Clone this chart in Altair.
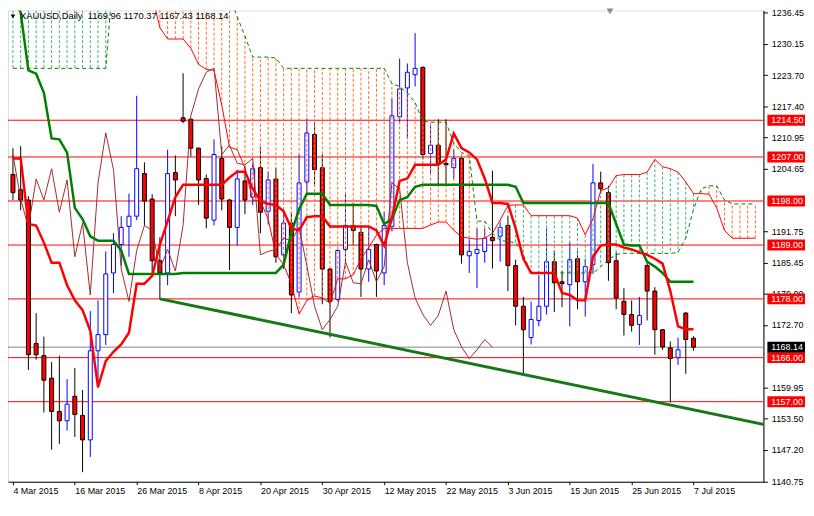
import altair as alt
import pandas as pd

# ---------------- data ----------------
opens = [1203.4, 1200.3, 1198.2, 1168.9, 1166.4, 1161.8, 1155.0, 1153.1, 1158.1, 1154.2,
         1149.2, 1167.4, 1170.7, 1183.3, 1189.1, 1192.8, 1194.9, 1203.6, 1198.4, 1185.8,
         1183.3, 1203.8, 1215.0, 1214.7, 1208.8, 1202.6, 1194.1, 1206.7, 1198.2, 1192.6,
         1202.1, 1198.8, 1204.8, 1195.9, 1202.5, 1187.0, 1193.5, 1179.4, 1201.9, 1211.6,
         1204.8, 1184.1, 1177.9, 1188.1, 1193.0, 1191.6, 1184.1, 1189.1, 1183.3, 1192.8,
         1215.2, 1221.1, 1223.8, 1225.3, 1207.7, 1209.4, 1205.7, 1204.8, 1206.7, 1186.8,
         1187.3, 1187.7, 1190.6, 1190.8, 1193.0, 1184.8, 1176.5, 1170.1, 1173.6, 1176.5,
         1185.6, 1181.5, 1180.9, 1186.2, 1181.5, 1185.0, 1201.7, 1199.7, 1185.8, 1177.5,
         1174.8, 1172.8, 1184.8, 1179.6, 1171.7, 1168.0, 1166.0, 1175.1, 1169.96]
highs = [1208.8, 1209.2, 1199.0, 1175.1, 1170.3, 1165.1, 1166.4, 1161.6, 1163.9, 1159.4,
         1175.5, 1177.7, 1187.7, 1191.4, 1194.9, 1199.5, 1219.5, 1205.9, 1199.4, 1190.6,
         1208.5, 1207.3, 1224.1, 1214.9, 1208.9, 1203.4, 1210.6, 1209.2, 1198.4, 1204.4,
         1205.0, 1205.6, 1209.0, 1204.0, 1204.8, 1195.9, 1195.7, 1207.5, 1214.9, 1213.9,
         1207.5, 1184.3, 1188.1, 1199.7, 1197.6, 1193.0, 1193.0, 1189.3, 1195.7, 1218.9,
         1227.1, 1226.1, 1232.3, 1225.5, 1213.3, 1214.7, 1214.7, 1208.5, 1207.5, 1190.2,
         1192.4, 1192.4, 1204.2, 1193.5, 1194.9, 1186.0, 1178.4, 1177.5, 1182.9, 1192.4,
         1187.9, 1183.7, 1189.5, 1187.7, 1186.2, 1205.6, 1204.0, 1201.1, 1187.5, 1180.2,
         1177.7, 1178.4, 1185.4, 1180.4, 1171.8, 1169.3, 1170.1, 1175.3, 1170.37]
lows = [1198.2, 1196.1, 1163.5, 1165.6, 1154.8, 1147.2, 1148.4, 1151.1, 1149.8, 1142.6,
        1145.7, 1159.8, 1168.6, 1179.2, 1184.8, 1186.6, 1194.1, 1193.0, 1183.3, 1178.0,
        1180.8, 1194.9, 1213.9, 1207.1, 1197.2, 1192.4, 1193.0, 1196.1, 1183.9, 1188.9,
        1195.3, 1197.2, 1191.4, 1193.2, 1185.4, 1184.1, 1175.1, 1178.4, 1199.5, 1201.3,
        1176.9, 1170.1, 1177.5, 1185.2, 1188.9, 1178.4, 1181.5, 1178.4, 1180.8, 1191.8,
        1214.1, 1210.8, 1221.4, 1206.5, 1203.6, 1201.1, 1201.1, 1202.6, 1185.2, 1183.3,
        1180.2, 1185.4, 1184.2, 1185.6, 1179.6, 1172.6, 1162.7, 1168.7, 1172.4, 1174.8,
        1175.3, 1176.3, 1172.4, 1175.9, 1174.4, 1183.1, 1199.5, 1181.7, 1175.9, 1170.5,
        1171.3, 1168.6, 1173.6, 1166.6, 1167.6, 1156.9, 1164.5, 1162.7, 1167.43]
closes = [1199.7, 1198.2, 1166.6, 1166.6, 1161.4, 1155.0, 1153.1, 1156.5, 1154.4, 1149.2,
          1167.4, 1170.7, 1183.1, 1189.1, 1192.6, 1194.9, 1204.6, 1198.0, 1185.8, 1183.3,
          1203.6, 1202.3, 1214.3, 1208.8, 1202.3, 1194.5, 1207.5, 1198.4, 1192.6, 1202.5,
          1198.2, 1204.6, 1195.7, 1202.3, 1186.6, 1193.5, 1178.8, 1201.7, 1211.9, 1204.4,
          1184.1, 1177.5, 1187.9, 1193.0, 1192.0, 1184.1, 1188.1, 1183.7, 1193.0, 1215.4,
          1220.9, 1224.3, 1225.1, 1207.5, 1209.4, 1205.7, 1205.4, 1206.7, 1187.0, 1187.7,
          1188.1, 1190.4, 1189.9, 1192.6, 1184.8, 1176.5, 1171.7, 1173.8, 1176.5, 1185.6,
          1181.3, 1181.1, 1186.0, 1181.5, 1184.6, 1201.7, 1200.5, 1185.4, 1178.2, 1174.8,
          1172.6, 1174.6, 1179.6, 1171.7, 1168.2, 1165.8, 1167.6, 1169.7, 1168.14]

tenkan = [1206.7, 1206.7, 1193.3, 1193.0, 1189.5, 1185.4, 1185.4, 1180.8, 1177.7, 1175.7,
          1171.5, 1160.0, 1165.3, 1167.2, 1168.7, 1171.1, 1181.1, 1181.1, 1182.7, 1189.1,
          1193.9, 1198.8, 1201.3, 1201.3, 1201.3, 1201.3, 1201.3, 1201.3, 1202.8, 1204.0,
          1204.0, 1200.5, 1198.0, 1197.4, 1197.2, 1195.9, 1192.4, 1192.0, 1194.7, 1194.9,
          1194.9, 1192.8, 1192.8, 1192.8, 1192.8, 1192.8, 1192.8, 1192.0, 1188.9, 1194.5,
          1202.1, 1202.6, 1205.4, 1205.4, 1205.4, 1205.4, 1206.5, 1211.8, 1208.8, 1207.9,
          1206.5, 1202.6, 1197.6, 1197.6, 1197.4, 1192.4, 1186.2, 1183.3, 1183.3, 1183.3,
          1183.3, 1179.2, 1178.8, 1177.7, 1177.7, 1186.6, 1188.9, 1189.1, 1189.1, 1188.5,
          1188.1, 1187.5, 1187.0, 1186.2, 1185.2, 1179.6, 1172.4, 1171.8, 1171.8]
kijun = [1240.0, 1236.5, 1224.7, 1224.0, 1220.1, 1210.8, 1210.6, 1207.9, 1196.6, 1194.3,
         1190.8, 1189.9, 1189.9, 1189.9, 1187.9, 1183.1, 1183.1, 1183.1, 1183.1, 1183.1,
         1183.1, 1183.1, 1183.3, 1183.3, 1183.3, 1183.3, 1183.3, 1183.3, 1183.3, 1183.3,
         1183.3, 1183.3, 1183.3, 1183.3, 1183.3, 1185.0, 1191.5, 1196.3, 1199.5, 1199.5,
         1199.5, 1197.2, 1197.2, 1197.2, 1197.2, 1197.2, 1197.2, 1197.0, 1193.3, 1194.3,
         1198.2, 1198.8, 1200.9, 1201.3, 1201.3, 1201.3, 1201.3, 1201.3, 1201.3, 1201.3,
         1201.3, 1201.3, 1201.3, 1201.3, 1201.3, 1200.9, 1197.6, 1197.6, 1197.6, 1197.6,
         1197.6, 1197.6, 1197.6, 1197.6, 1197.6, 1197.6, 1197.6, 1197.6, 1193.3, 1189.1,
         1188.9, 1188.9, 1185.6, 1184.6, 1183.3, 1181.5, 1181.5, 1181.5, 1181.5]
span_a = [1245.0, 1245.0, 1245.0, 1245.0, 1245.0, 1245.0, 1245.0, 1245.0, 1245.0, 1245.0,
          1245.0, 1245.0, 1245.0, 1245.0, 1245.0, 1245.0, 1245.0, 1245.0, 1240.0, 1233.4,
          1231.1, 1231.1, 1231.1, 1229.2, 1225.9, 1224.9, 1224.7, 1217.6, 1209.0, 1208.5,
          1204.8, 1198.2, 1198.0, 1194.3, 1187.1, 1185.0, 1181.1, 1174.9, 1177.7, 1178.6,
          1178.2, 1177.1, 1182.1, 1182.1, 1182.9, 1186.2, 1188.5, 1191.0, 1192.4, 1192.4,
          1192.4, 1192.4, 1192.4, 1192.4, 1193.1, 1193.7, 1193.7, 1192.0, 1190.7, 1190.4,
          1190.2, 1190.4, 1191.4, 1194.1, 1197.1, 1197.2, 1197.2, 1195.0, 1195.0, 1195.0,
          1195.0, 1195.0, 1195.0, 1194.5, 1191.1, 1194.4, 1200.1, 1200.7, 1203.2, 1203.4,
          1203.4, 1203.4, 1203.9, 1206.5, 1205.0, 1204.6, 1203.9, 1201.9, 1199.5, 1199.5,
          1199.4, 1196.6, 1192.0, 1190.4, 1190.4, 1190.4, 1190.4]
span_b = [1225.1, 1225.1, 1225.1, 1225.1, 1225.1, 1225.1, 1225.1, 1225.1, 1225.1, 1225.1,
          1225.1, 1225.1, 1225.1, 1245.0, 1245.0, 1245.0, 1245.0, 1245.0, 1245.0, 1245.0,
          1245.0, 1245.0, 1245.0, 1245.0, 1245.0, 1245.0, 1245.0, 1245.0, 1240.0, 1235.6,
          1231.7, 1227.4, 1227.4, 1227.4, 1227.2, 1225.1, 1225.1, 1225.1, 1225.1, 1225.1,
          1225.1, 1225.1, 1225.1, 1225.1, 1225.1, 1225.1, 1225.1, 1225.1, 1225.1, 1222.0,
          1221.4, 1220.1, 1218.1, 1214.3, 1214.1, 1214.1, 1214.1, 1209.8, 1207.9, 1207.3,
          1193.9, 1193.9, 1191.4, 1190.0, 1189.7, 1189.5, 1187.0, 1183.3, 1183.3, 1183.3,
          1183.3, 1183.3, 1183.3, 1183.3, 1183.3, 1183.3, 1184.6, 1186.0, 1187.1, 1187.3,
          1187.3, 1187.3, 1187.3, 1187.3, 1187.3, 1187.3, 1187.5, 1190.4, 1196.3, 1200.5,
          1201.1, 1201.1, 1198.2, 1197.4, 1197.4, 1197.4, 1197.4]

levels = [1214.50, 1207.00, 1198.00, 1189.00, 1178.00, 1166.00, 1157.00]
last_price = 1168.14
trend_bars = [19, 100]
trend_prices = [1178.0, 1151.4]
date_labels = ["4 Mar 2015", "16 Mar 2015", "26 Mar 2015", "8 Apr 2015", "20 Apr 2015",
               "30 Apr 2015", "12 May 2015", "22 May 2015", "3 Jun 2015", "15 Jun 2015",
               "25 Jun 2015", "7 Jul 2015"]
price_ticks = [1236.45, 1230.15, 1223.70, 1217.40, 1210.95, 1204.65, 1191.75, 1185.45,
               1179.00, 1172.70, 1159.95, 1153.50, 1147.20, 1140.75]
symbol = "XAUUSD,Daily"
shift = 26

# ---------------- tables ----------------
n = len(opens)
df = pd.DataFrame({"bar": list(range(n)), "open": opens, "high": highs, "low": lows,
                   "close": closes, "tenkan": tenkan, "kijun": kijun})
bull = df[df["close"] >= df["open"]]
bear = df[df["close"] < df["open"]]
cloud = pd.DataFrame({"bar": list(range(len(span_a))), "a": span_a, "b": span_b})
cloud["kind"] = ["bull" if a >= b else "bear" for a, b in zip(span_a, span_b)]
chikou = pd.DataFrame({"bar": list(range(n - shift)), "value": closes[shift:]})
trend = pd.DataFrame({"bar": trend_bars, "value": trend_prices})
lv = pd.DataFrame({"level": levels, "label": [f"{v:.2f}" for v in levels]})
cur = pd.DataFrame({"level": [last_price], "label": [f"{last_price:.2f}"]})
title_df = pd.DataFrame({"t": [f"{symbol}\u00a0\u00a0{opens[-1]:.2f} {highs[-1]:.2f} {lows[-1]:.2f} {closes[-1]:.2f}"]})
one = pd.DataFrame({"k": [0]})

W, H = 763, 476
FONT = "Liberation Sans"
xs = alt.Scale(domain=[0, 96.4], nice=False, zero=False)
ys = alt.Scale(domain=[1140.65, 1236.93], nice=False, zero=False)
label_arr = "[" + ",".join(f"'{d}'" for d in date_labels) + "]"
x_axis = alt.Axis(values=list(range(0, 8 * len(date_labels), 8)),
                  labelExpr=f"{label_arr}[round(datum.value/8)]",
                  labelAlign="left", labelPadding=2, tickSize=3, grid=False,
                  labelFlush=False, labelOverlap=False, labelFont=FONT, labelFontSize=9,
                  labelColor="black", domainColor="black", tickColor="black", title=None)
y_axis = alt.Axis(orient="right", values=price_ticks, format=".2f", tickSize=4,
                  labelPadding=4, grid=False, labelFlush=False, labelOverlap=False,
                  labelFont=FONT, labelFontSize=9, labelColor="black",
                  domainColor="black", tickColor="black", title=None)


def X(f="bar"):
    return alt.X(f"{f}:Q", scale=xs, axis=x_axis, title=None)


def Y(f):
    return alt.Y(f"{f}:Q", scale=ys, axis=y_axis, title=None)


level_rules = alt.Chart(lv).mark_rule(color="#FF0000", strokeWidth=1, clip=True).encode(y=Y("level"))
price_rule = alt.Chart(cur).mark_rule(color="#778899", strokeWidth=1, clip=True).encode(y=Y("level"))

bear_wick = alt.Chart(bear).mark_rule(color="black", strokeWidth=1, clip=True).encode(
    x=X(), y=Y("low"), y2="high:Q")
bull_wick = alt.Chart(bull).mark_rule(color="#0000FF", strokeWidth=1, clip=True).encode(
    x=X(), y=Y("low"), y2="high:Q")
bear_body = alt.Chart(bear).mark_bar(width=4, fill="#FF0000", stroke="black", strokeWidth=1,
                                     clip=True).encode(x=X(), y=Y("open"), y2="close:Q")
bull_body = alt.Chart(bull).mark_bar(width=4, fill="white", stroke="#0000FF", strokeWidth=1,
                                     clip=True).encode(x=X(), y=Y("open"), y2="close:Q")

hatch = alt.Chart(cloud).mark_rule(strokeDash=[3, 2], strokeWidth=1, clip=True).encode(
    x=X(), y=Y("a"), y2="b:Q",
    color=alt.Color("kind:N", scale=alt.Scale(domain=["bull", "bear"],
                                              range=["#3CB371", "#FF6A1F"]), legend=None))
line_a = alt.Chart(cloud).mark_line(color="#FF0000", strokeWidth=1, clip=True).encode(x=X(), y=Y("a"))
line_b = alt.Chart(cloud).mark_line(color="#008000", strokeWidth=1, strokeDash=[4, 3],
                                    clip=True).encode(x=X(), y=Y("b"))
chikou_line = alt.Chart(chikou).mark_line(color="#A52A2A", strokeWidth=1, clip=True).encode(
    x=X(), y=Y("value"))
trend_line = alt.Chart(trend).mark_line(color="#187818", strokeWidth=3, clip=True).encode(
    x=X(), y=Y("value"))
kijun_line = alt.Chart(df).mark_line(color="#008000", strokeWidth=2.5, clip=True).encode(
    x=X(), y=Y("kijun"))
tenkan_line = alt.Chart(df).mark_line(color="#FF0000", strokeWidth=2.5, clip=True).encode(
    x=X(), y=Y("tenkan"))

box_lv = alt.Chart(lv).mark_tick(orient="horizontal", color="#FF0000", thickness=11, size=38,
                                 opacity=1, clip=False).encode(x=alt.value(786), y=Y("level"))
txt_lv = alt.Chart(lv).mark_text(align="left", baseline="middle", color="white", font=FONT,
                                 fontSize=9, clip=False).encode(
    x=alt.value(771), y=Y("level"), text="label:N")
box_cur = alt.Chart(cur).mark_tick(orient="horizontal", color="black", thickness=11, size=38,
                                   opacity=1, clip=False).encode(x=alt.value(786), y=Y("level"))
txt_cur = alt.Chart(cur).mark_text(align="left", baseline="middle", color="white", font=FONT,
                                   fontSize=9, clip=False).encode(
    x=alt.value(771), y=Y("level"), text="label:N")

title_txt = alt.Chart(title_df).mark_text(align="left", baseline="middle", color="black",
                                          font=FONT, fontSize=9.5).encode(
    x=alt.value(12), y=alt.value(6), text="t:N")
title_tri = alt.Chart(one).mark_point(shape="triangle-down", filled=True, color="black",
                                      size=22, opacity=1).encode(x=alt.value(5), y=alt.value(6))
shift_tri = alt.Chart(one).mark_point(shape="triangle-down", filled=True, color="#8A8A8A",
                                      size=45, opacity=1).encode(x=alt.value(608), y=alt.value(1))

chart = alt.layer(
    level_rules, price_rule,
    bear_wick, bull_wick, bear_body, bull_body,
    hatch, line_a, line_b, chikou_line, trend_line, kijun_line, tenkan_line,
    box_lv, txt_lv, box_cur, txt_cur, title_tri, title_txt, shift_tri
).properties(
    width=W, height=H,
    padding={"left": 0, "top": 0, "right": 43, "bottom": 18},
    autosize=alt.AutoSizeParams(type="none")
).configure_view(stroke=None).configure(background="white")

chart.save("out.html", embed_options={"renderer": "svg", "actions": False})
